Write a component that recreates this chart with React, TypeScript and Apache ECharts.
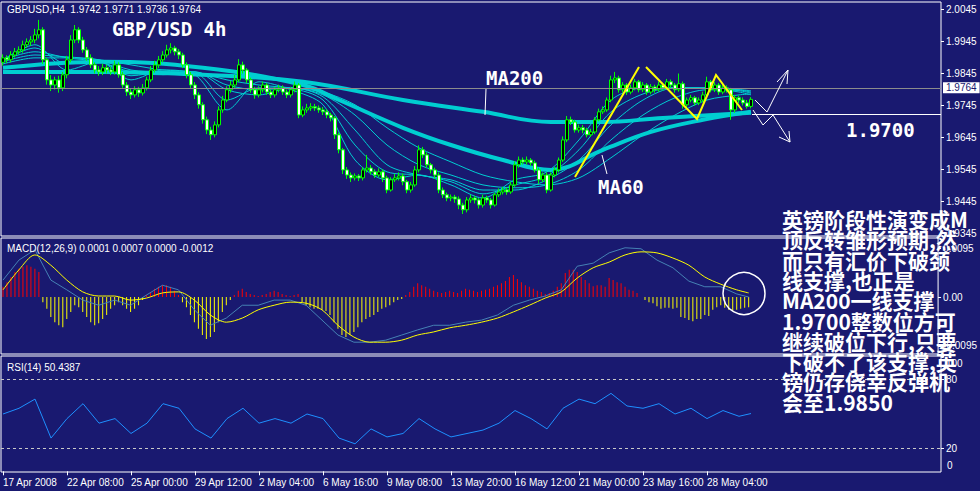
import React, { useEffect, useRef } from 'react';
import * as echarts from 'echarts';

const BG = '#191970';
const CYAN = '#00CED1';
const FONT = '"Liberation Sans", Arial, sans-serif';

const tickLabels = ['17 Apr 2008', '22 Apr 08:00', '25 Apr 00:00', '29 Apr 12:00', '2 May 04:00', '6 May 16:00', '9 May 08:00', '13 May 20:00', '16 May 12:00', '21 May 00:00', '23 May 16:00', '28 May 04:00'];
const slotCount = 235;
const ticksEvery = 16;

const opens = [1.9880,1.9894,1.9888,1.9903,1.9913,1.9919,1.9935,1.9944,1.9950,1.9966,
1.9982,1.9888,1.9825,1.9809,1.9825,1.9800,1.9841,1.9888,1.9950,1.9982,
1.9950,1.9919,1.9894,1.9872,1.9856,1.9850,1.9863,1.9856,1.9850,1.9872,
1.9841,1.9809,1.9787,1.9778,1.9794,1.9784,1.9800,1.9825,1.9856,1.9872,
1.9888,1.9903,1.9919,1.9925,1.9913,1.9903,1.9872,1.9841,1.9809,1.9778,
1.9747,1.9700,1.9668,1.9653,1.9684,1.9731,1.9762,1.9794,1.9809,1.9825,
1.9872,1.9856,1.9825,1.9794,1.9778,1.9794,1.9809,1.9787,1.9778,1.9794,
1.9800,1.9787,1.9778,1.9794,1.9809,1.9715,1.9731,1.9737,1.9741,1.9737,
1.9731,1.9725,1.9715,1.9706,1.9653,1.9606,1.9543,1.9527,1.9518,1.9524,
1.9518,1.9543,1.9549,1.9537,1.9527,1.9537,1.9518,1.9480,1.9512,1.9518,
1.9524,1.9506,1.9480,1.9496,1.9543,1.9606,1.9590,1.9559,1.9543,1.9527,
1.9480,1.9465,1.9455,1.9458,1.9452,1.9433,1.9418,1.9449,1.9455,1.9449,
1.9433,1.9455,1.9449,1.9433,1.9465,1.9474,1.9480,1.9474,1.9496,1.9559,
1.9574,1.9568,1.9574,1.9565,1.9543,1.9512,1.9527,1.9480,1.9527,1.9543,
1.9574,1.9637,1.9700,1.9693,1.9668,1.9675,1.9668,1.9653,1.9662,1.9700,
1.9725,1.9731,1.9762,1.9825,1.9831,1.9794,1.9809,1.9787,1.9800,1.9819,
1.9794,1.9809,1.9787,1.9803,1.9794,1.9809,1.9800,1.9819,1.9809,1.9794,
1.9813,1.9747,1.9762,1.9769,1.9753,1.9762,1.9778,1.9819,1.9794,1.9809,
1.9787,1.9800,1.9794,1.9731,1.9769,1.9762,1.9753,1.9742];

const closes = [1.9894,1.9888,1.9903,1.9913,1.9919,1.9935,1.9944,1.9950,1.9966,1.9982,
1.9888,1.9825,1.9809,1.9825,1.9800,1.9841,1.9888,1.9950,1.9982,1.9950,
1.9919,1.9894,1.9872,1.9856,1.9850,1.9863,1.9856,1.9850,1.9872,1.9841,
1.9809,1.9787,1.9778,1.9794,1.9784,1.9800,1.9825,1.9856,1.9872,1.9888,
1.9903,1.9919,1.9925,1.9913,1.9903,1.9872,1.9841,1.9809,1.9778,1.9747,
1.9700,1.9668,1.9653,1.9684,1.9731,1.9762,1.9794,1.9809,1.9825,1.9872,
1.9856,1.9825,1.9794,1.9778,1.9794,1.9809,1.9787,1.9778,1.9794,1.9800,
1.9787,1.9778,1.9794,1.9809,1.9715,1.9731,1.9737,1.9741,1.9737,1.9731,
1.9725,1.9715,1.9706,1.9653,1.9606,1.9543,1.9527,1.9518,1.9524,1.9518,
1.9543,1.9549,1.9537,1.9527,1.9537,1.9518,1.9480,1.9512,1.9518,1.9524,
1.9506,1.9480,1.9496,1.9543,1.9606,1.9590,1.9559,1.9543,1.9527,1.9480,
1.9465,1.9455,1.9458,1.9452,1.9433,1.9418,1.9449,1.9455,1.9449,1.9433,
1.9455,1.9449,1.9433,1.9465,1.9474,1.9480,1.9474,1.9496,1.9559,1.9574,
1.9568,1.9574,1.9565,1.9543,1.9512,1.9527,1.9480,1.9527,1.9543,1.9574,
1.9637,1.9700,1.9693,1.9668,1.9675,1.9668,1.9653,1.9662,1.9700,1.9725,
1.9731,1.9762,1.9825,1.9831,1.9794,1.9809,1.9787,1.9800,1.9819,1.9794,
1.9809,1.9787,1.9803,1.9794,1.9809,1.9800,1.9819,1.9809,1.9794,1.9813,
1.9747,1.9762,1.9769,1.9753,1.9762,1.9778,1.9819,1.9794,1.9809,1.9787,
1.9800,1.9794,1.9731,1.9769,1.9762,1.9753,1.9742,1.9764];

const highs = [1.9905,1.9902,1.9915,1.9925,1.9930,1.9948,1.9955,1.9962,1.9985,2.0013,
1.9990,1.9895,1.9840,1.9835,1.9838,1.9850,1.9900,1.9965,1.9997,1.9990,
1.9960,1.9928,1.9905,1.9880,1.9868,1.9875,1.9872,1.9865,1.9885,1.9880,
1.9850,1.9818,1.9797,1.9805,1.9803,1.9812,1.9835,1.9868,1.9885,1.9900,
1.9915,1.9935,1.9940,1.9932,1.9922,1.9910,1.9880,1.9850,1.9818,1.9786,
1.9755,1.9710,1.9678,1.9695,1.9742,1.9775,1.9805,1.9822,1.9840,1.9890,
1.9882,1.9862,1.9832,1.9803,1.9805,1.9820,1.9815,1.9795,1.9803,1.9810,
1.9808,1.9795,1.9803,1.9820,1.9815,1.9742,1.9750,1.9752,1.9750,1.9745,
1.9740,1.9733,1.9722,1.9712,1.9660,1.9612,1.9552,1.9535,1.9532,1.9530,
1.9552,1.9590,1.9558,1.9545,1.9548,1.9545,1.9525,1.9520,1.9530,1.9535,
1.9532,1.9512,1.9505,1.9555,1.9620,1.9615,1.9598,1.9565,1.9550,1.9535,
1.9488,1.9472,1.9466,1.9465,1.9460,1.9440,1.9458,1.9465,1.9462,1.9455,
1.9465,1.9462,1.9455,1.9472,1.9485,1.9490,1.9488,1.9505,1.9570,1.9585,
1.9582,1.9585,1.9580,1.9572,1.9550,1.9535,1.9535,1.9535,1.9552,1.9582,
1.9648,1.9712,1.9710,1.9700,1.9685,1.9684,1.9675,1.9672,1.9708,1.9735,
1.9742,1.9770,1.9838,1.9850,1.9838,1.9818,1.9815,1.9810,1.9828,1.9825,
1.9818,1.9815,1.9812,1.9810,1.9820,1.9816,1.9828,1.9826,1.9815,1.9845,
1.9820,1.9770,1.9778,1.9775,1.9770,1.9788,1.9835,1.9825,1.9818,1.9815,
1.9810,1.9808,1.9800,1.9778,1.9775,1.9770,1.9762,1.9771];

const lows = [1.9870,1.9878,1.9880,1.9895,1.9905,1.9910,1.9925,1.9932,1.9940,1.9955,
1.9875,1.9810,1.9790,1.9795,1.9785,1.9790,1.9830,1.9880,1.9940,1.9940,
1.9910,1.9885,1.9862,1.9845,1.9838,1.9840,1.9845,1.9840,1.9842,1.9832,
1.9800,1.9775,1.9765,1.9770,1.9772,1.9776,1.9792,1.9818,1.9848,1.9862,
1.9880,1.9895,1.9908,1.9902,1.9890,1.9862,1.9830,1.9798,1.9765,1.9735,
1.9688,1.9655,1.9637,1.9645,1.9676,1.9722,1.9755,1.9785,1.9800,1.9818,
1.9845,1.9815,1.9785,1.9766,1.9770,1.9786,1.9778,1.9768,1.9770,1.9786,
1.9778,1.9768,1.9770,1.9786,1.9705,1.9708,1.9722,1.9728,1.9728,1.9722,
1.9715,1.9705,1.9695,1.9640,1.9595,1.9530,1.9515,1.9505,1.9510,1.9508,
1.9510,1.9535,1.9528,1.9518,1.9520,1.9505,1.9470,1.9475,1.9505,1.9510,
1.9495,1.9470,1.9472,1.9490,1.9535,1.9580,1.9550,1.9532,1.9515,1.9470,
1.9455,1.9445,1.9445,1.9440,1.9420,1.9405,1.9410,1.9440,1.9438,1.9422,
1.9425,1.9440,1.9422,1.9428,1.9458,1.9466,1.9465,1.9468,1.9490,1.9550,
1.9560,1.9560,1.9556,1.9535,1.9500,1.9505,1.9470,1.9475,1.9520,1.9535,
1.9568,1.9630,1.9684,1.9660,1.9660,1.9658,1.9645,1.9646,1.9655,1.9695,
1.9718,1.9725,1.9755,1.9815,1.9785,1.9786,1.9778,1.9780,1.9792,1.9786,
1.9787,1.9778,1.9780,1.9785,1.9788,1.9792,1.9795,1.9800,1.9785,1.9788,
1.9735,1.9740,1.9755,1.9745,1.9746,1.9755,1.9770,1.9786,1.9787,1.9778,
1.9780,1.9785,1.9700,1.9722,1.9752,1.9745,1.9735,1.9736];

// moving averages, sampled at bar indices
const maIdx = [0,8,16,24,32,40,48,56,64,72,80,88,96,104,112,120,128,136,144,152,160,168,176,184,187];
const ma10 = [1.9888,1.9935,1.9856,1.9882,1.9825,1.9856,1.9841,1.9731,1.9819,1.9794,1.9747,1.9574,1.9512,1.9527,1.9496,1.9455,1.9512,1.9537,1.9637,1.9762,1.9800,1.9800,1.9800,1.9787,1.9778];
const ma15 = [1.9888,1.9925,1.9875,1.9882,1.9838,1.9850,1.9847,1.9762,1.9800,1.9797,1.9762,1.9621,1.9537,1.9527,1.9506,1.9468,1.9496,1.9524,1.9606,1.9725,1.9781,1.9800,1.9800,1.9791,1.9784];
const ma20 = [1.9888,1.9913,1.9894,1.9882,1.9850,1.9841,1.9850,1.9794,1.9778,1.9800,1.9772,1.9668,1.9559,1.9527,1.9512,1.9480,1.9480,1.9512,1.9574,1.9684,1.9762,1.9800,1.9800,1.9794,1.9787];
const ma30 = [1.9882,1.9903,1.9897,1.9888,1.9856,1.9850,1.9850,1.9809,1.9794,1.9800,1.9778,1.9715,1.9621,1.9559,1.9527,1.9496,1.9487,1.9496,1.9543,1.9637,1.9715,1.9769,1.9794,1.9794,1.9791];
const ma45 = [1.9875,1.9894,1.9894,1.9888,1.9872,1.9856,1.9850,1.9825,1.9809,1.9800,1.9787,1.9747,1.9675,1.9612,1.9568,1.9527,1.9506,1.9496,1.9518,1.9581,1.9653,1.9715,1.9762,1.9778,1.9781];
const ma60Idx = [0,25,50,75,84,100,112,125,137,150,162,175,187];
const ma60 = [1.9863,1.9882,1.9863,1.9809,1.9762,1.9675,1.9621,1.9574,1.9543,1.9606,1.9662,1.9700,1.9725];
const ma200Idx = [0,25,50,75,100,120,137,150,165,187];
const ma200 = [1.9850,1.9850,1.9841,1.9819,1.9762,1.9725,1.9693,1.9693,1.9706,1.9722];

const macdHist = [0.0020,0.0029,0.0039,0.0049,0.0055,0.0059,0.0062,0.0059,0.0055,0.0049,
-0.0010,-0.0023,-0.0039,-0.0049,-0.0055,-0.0059,-0.0043,-0.0029,-0.0016,-0.0020,-0.0029,-0.0039,-0.0049,-0.0055,-0.0051,-0.0043,-0.0035,-0.0023,
-0.0016,-0.0010,-0.0016,-0.0023,-0.0029,-0.0023,-0.0016,-0.0006,0.0004,0.0010,
0.0016,0.0020,0.0023,0.0023,0.0020,0.0012,0.0004,
-0.0010,-0.0020,-0.0035,-0.0049,-0.0062,-0.0074,-0.0082,-0.0078,-0.0068,-0.0049,-0.0029,-0.0016,-0.0006,0.0004,
0.0012,0.0016,0.0010,0.0006,0.0004,0.0002,0.0004,0.0006,0.0010,0.0012,0.0010,0.0006,0.0004,0.0002,0.0004,0.0006,-0.0010,-0.0016,-0.0020,-0.0023,
-0.0023,-0.0025,-0.0027,-0.0035,-0.0049,-0.0062,-0.0074,-0.0078,-0.0074,-0.0068,-0.0059,-0.0049,-0.0043,-0.0039,-0.0035,-0.0029,-0.0023,-0.0020,-0.0016,-0.0010,-0.0006,-0.0004,
0.0004,0.0010,0.0020,0.0027,0.0023,0.0020,0.0016,0.0012,0.0010,0.0008,0.0010,0.0012,0.0010,0.0008,0.0012,0.0016,0.0014,0.0012,0.0010,0.0012,0.0014,0.0016,0.0020,0.0023,0.0027,0.0031,0.0039,0.0043,0.0035,0.0029,0.0023,0.0020,0.0016,0.0012,0.0010,0.0006,0.0008,0.0012,0.0020,
0.0027,0.0047,0.0053,0.0053,0.0049,0.0039,0.0033,0.0027,0.0021,0.0023,0.0023,0.0020,0.0037,0.0033,0.0029,0.0027,0.0020,0.0014,0.0012,0.0008,0.0000,-0.0006,-0.0010,-0.0012,-0.0018,-0.0023,-0.0021,-0.0021,-0.0023,-0.0021,-0.0039,-0.0041,-0.0045,-0.0047,-0.0043,-0.0043,-0.0035,-0.0037,-0.0025,-0.0020,-0.0016,-0.0021,-0.0025,-0.0027,-0.0025,-0.0023,-0.0021,-0.0020];

const oscIdx = [0,4,8,12,16,20,24,28,32,36,40,44,48,52,56,60,64,68,72,76,80,84,88,92,96,100,104,108,112,116,120,124,128,132,136,140,144,148,152,156,160,164,168,172,176,180,184,187];
const macdMain = [0.0033,0.0072,0.0092,0.0033,0.0014,-0.0006,-0.0016,-0.0006,-0.0016,0.0004,0.0023,0.0014,-0.0025,-0.0055,-0.0041,-0.0016,-0.0016,-0.0006,-0.0006,-0.0016,-0.0045,-0.0074,-0.0088,-0.0088,-0.0084,-0.0074,-0.0064,-0.0055,-0.0055,-0.0049,-0.0045,-0.0035,-0.0016,-0.0006,0.0002,0.0014,0.0060,0.0066,0.0086,0.0096,0.0094,0.0072,0.0057,0.0031,0.0020,0.0020,0.0006,0.0000];
const macdSignal = [0.0014,0.0053,0.0082,0.0062,0.0033,0.0010,0.0002,0.0002,-0.0006,-0.0002,0.0008,0.0010,-0.0006,-0.0035,-0.0049,-0.0041,-0.0025,-0.0016,-0.0010,-0.0012,-0.0025,-0.0055,-0.0078,-0.0088,-0.0088,-0.0084,-0.0074,-0.0068,-0.0060,-0.0055,-0.0049,-0.0041,-0.0029,-0.0016,-0.0002,0.0010,0.0037,0.0057,0.0068,0.0082,0.0088,0.0086,0.0076,0.0062,0.0039,0.0025,0.0014,0.0008];
const rsi = [50,55,63,29,46,59,42,46,33,42,59,55,37,29,46,55,42,46,42,50,46,29,24,37,30,33,46,37,30,33,36,42,53,46,37,55,63,59,68,57,55,59,50,55,46,53,48,50.4];

const priceTicks = [1.9345, 1.9445, 1.9545, 1.9645, 1.9745, 1.9845, 1.9945, 2.0045];
const macdTicks = [0.0095, 0, -0.0095];
const rsiTicks = [20, 80, 100];
const rsiLevels = [20, 80];
const rsiFloor = 0;
const lastPrice = 1.9764;

const noteLines = ['英镑阶段性演变成M', '顶反转雏形预期,然', '而只有汇价下破颈', '线支撑,也正是', 'MA200一线支撑', '1.9700整数位方可', '继续破位下行,只要', '下破不了该支撑,英', '镑仍存侥幸反弹机', '会至1.9850'];

function pairs(idx: number[], vals: number[]) {
  return idx.map((i, k) => [i, vals[k]]);
}

export default function App() {
  const ref = useRef<HTMLDivElement>(null);
  useEffect(() => {
    const chart = echarts.init(ref.current!, null, { renderer: 'svg' });
    const categories = Array.from({ length: slotCount }, (_, i) =>
      i % ticksEvery === 0 && i / ticksEvery < tickLabels.length ? tickLabels[i / ticksEvery] : '');
    const candles = closes.map((c, i) => [opens[i], c, lows[i], highs[i]]);
    const thin = (d: number[]) => ({
      type: 'line', xAxisIndex: 0, yAxisIndex: 0, data: pairs(maIdx, d), showSymbol: false,
      smooth: 0.3, lineStyle: { color: CYAN, width: 1 }, z: 3,
    });
    const grids = [
      { left: 1, top: 2, width: 940, height: 234 },
      { left: 1, top: 238, width: 940, height: 116 },
      { left: 1, top: 356, width: 940, height: 116 },
    ].map((g) => ({ ...g, show: true, borderColor: '#ffffff', borderWidth: 1, backgroundColor: 'transparent' }));
    const xAxes = [0, 1, 2].map((gi) => ({
      type: 'category', gridIndex: gi, data: categories, boundaryGap: true,
      axisLine: { show: false },
      axisTick: gi === 2 ? { show: true, alignWithLabel: true, length: 4, lineStyle: { color: '#fff' }, interval: (_i: number, v: string) => v !== '' } : { show: false },
      axisLabel: gi === 2 ? { show: true, color: '#fff', fontSize: 10, fontFamily: FONT, align: 'left', margin: 5, interval: (_i: number, v: string) => v !== '' } : { show: false },
      splitLine: { show: false },
    }));
    const yBase = { position: 'right', axisLine: { show: false }, splitLine: { show: false } };
    const labelBase = { color: '#fff', fontSize: 10, fontFamily: FONT, margin: 5, showMinLabel: true, showMaxLabel: true, hideOverlap: false };
    const option: any = {
      animation: false,
      backgroundColor: BG,
      textStyle: { fontFamily: FONT },
      grid: grids,
      xAxis: xAxes,
      yAxis: [
        { ...yBase, type: 'value', gridIndex: 0, min: 1.9336, max: 2.0069,
          axisTick: { show: true, length: 3, lineStyle: { color: '#fff' }, customValues: priceTicks },
          axisLabel: { ...labelBase, customValues: priceTicks, formatter: (v: number) => v.toFixed(4) } },
        { ...yBase, type: 'value', gridIndex: 1, min: -0.0111, max: 0.0115,
          axisTick: { show: true, length: 3, lineStyle: { color: '#fff' }, customValues: macdTicks },
          axisLabel: { ...labelBase, customValues: macdTicks, formatter: (v: number) => (v === 0 ? '0.00' : v.toFixed(4)) } },
        { ...yBase, type: 'value', gridIndex: 2, min: -0.6, max: 100.6,
          axisTick: { show: true, length: 3, lineStyle: { color: '#fff' }, customValues: rsiTicks },
          axisLabel: {
            ...labelBase, customValues: rsiTicks,
            formatter: (v: number) => (v === 100 ? '{dn|100}' : String(v)),
            rich: { dn: { color: '#fff', fontSize: 10, padding: [14, 0, 0, 0] } },
          } },
      ],
      series: [
        thin(ma45), thin(ma30), thin(ma20), thin(ma15), thin(ma10),
        { type: 'line', xAxisIndex: 0, yAxisIndex: 0, data: pairs(ma200Idx, ma200), showSymbol: false, smooth: 0.4, lineStyle: { color: CYAN, width: 4 }, z: 3 },
        { type: 'line', xAxisIndex: 0, yAxisIndex: 0, data: pairs(ma60Idx, ma60), showSymbol: false, smooth: 0.4, lineStyle: { color: CYAN, width: 4 }, z: 3 },
        {
          type: 'candlestick', xAxisIndex: 0, yAxisIndex: 0, data: candles, barWidth: 3, z: 4,
          itemStyle: { color: '#000000', color0: '#ffffff', borderColor: '#00ff00', borderColor0: '#00ff00', borderWidth: 1 },
          markLine: {
            silent: true, symbol: ['none', 'none'], animation: false,
            lineStyle: { color: '#8c8c8c', type: 'solid', width: 1 },
            label: { show: true, position: 'end', formatter: lastPrice.toFixed(4), backgroundColor: '#ffffff', color: BG, fontSize: 10, fontFamily: FONT, padding: [1, 3, 0, 3], distance: 2 },
            data: [{ yAxis: lastPrice }],
          },
        },
        {
          type: 'bar', xAxisIndex: 1, yAxisIndex: 1, barWidth: 1,
          data: macdHist.map((v) => ({ value: v, itemStyle: { color: v >= 0 ? '#ff0000' : '#ffff00' } })),
        },
        { type: 'line', xAxisIndex: 1, yAxisIndex: 1, data: pairs(oscIdx, macdMain), showSymbol: false, lineStyle: { color: '#4682B4', width: 1 } },
        { type: 'line', xAxisIndex: 1, yAxisIndex: 1, data: pairs(oscIdx, macdSignal), showSymbol: false, smooth: 0.3, lineStyle: { color: '#ffff00', width: 1 } },
        {
          type: 'line', xAxisIndex: 2, yAxisIndex: 2, data: pairs(oscIdx, rsi), showSymbol: false, lineStyle: { color: '#1E90FF', width: 1 },
          markLine: {
            silent: true, symbol: ['none', 'none'], label: { show: false },
            lineStyle: { color: '#c8c8c8', type: [3, 3], width: 1 },
            data: [
              ...rsiLevels.map((v) => ({ yAxis: v })),
              {
                yAxis: rsiFloor, lineStyle: { color: 'rgba(0,0,0,0)', width: 1 },
                label: { show: true, position: 'end', formatter: String(rsiFloor), color: '#ffffff', fontSize: 10, fontFamily: FONT, distance: 6, offset: [0, -6] },
              },
            ],
          },
        },
      ],
      graphic: [
        { type: 'text', x: 7, y: 9.5, z: 50, style: { text: 'GBPUSD,H4  1.9742 1.9771 1.9736 1.9764', fill: '#ffffff', font: '10px "Liberation Sans"', verticalAlign: 'middle' } },
        { type: 'text', x: 7, y: 248, z: 50, style: { text: 'MACD(12,26,9) 0.0001 0.0007 0.0000 -0.0012', fill: '#ffffff', font: '10px "Liberation Sans"', verticalAlign: 'middle' } },
        { type: 'text', x: 7, y: 367, z: 50, style: { text: 'RSI(14) 50.4387', fill: '#ffffff', font: '10px "Liberation Sans"', verticalAlign: 'middle' } },
        { type: 'text', x: 112, y: 29, z: 50, style: { text: 'GBP/USD 4h', fill: '#ffffff', font: 'bold 19px "DejaVu Sans Mono"', verticalAlign: 'middle' } },
        { type: 'text', x: 486, y: 78, z: 50, style: { text: 'MA200', fill: '#ffffff', font: 'bold 19px "DejaVu Sans Mono"', verticalAlign: 'middle' } },
        { type: 'line', z: 50, shape: { x1: 486, y1: 89, x2: 485, y2: 115 }, style: { stroke: '#ffffff', lineWidth: 1 } },
        { type: 'text', x: 598, y: 187, z: 50, style: { text: 'MA60', fill: '#ffffff', font: 'bold 19px "DejaVu Sans Mono"', verticalAlign: 'middle' } },
        { type: 'line', z: 50, shape: { x1: 602, y1: 155, x2: 607, y2: 174 }, style: { stroke: '#ffffff', lineWidth: 1 } },
        { type: 'polyline', z: 50, shape: { points: [[575, 177], [639, 67]] }, style: { stroke: '#ffff00', lineWidth: 2, fill: 'none' } },
        { type: 'polyline', z: 50, shape: { points: [[646, 67], [697, 119], [716, 75], [742, 110]] }, style: { stroke: '#ffff00', lineWidth: 2, fill: 'none' } },
        { type: 'polyline', z: 50, shape: { points: [[755, 100], [767, 112], [788, 70]] }, style: { stroke: '#ffffff', lineWidth: 1, fill: 'none' } },
        { type: 'polyline', z: 50, shape: { points: [[777, 82], [788, 70], [787, 84]] }, style: { stroke: '#ffffff', lineWidth: 1, fill: 'none' } },
        { type: 'polyline', z: 50, shape: { points: [[753, 110], [763, 125], [773, 115], [790, 142]] }, style: { stroke: '#ffffff', lineWidth: 1, fill: 'none' } },
        { type: 'polyline', z: 50, shape: { points: [[779, 137], [790, 142], [789, 131]] }, style: { stroke: '#ffffff', lineWidth: 1, fill: 'none' } },
        { type: 'line', z: 50, shape: { x1: 752, y1: 114.5, x2: 941, y2: 114.5 }, style: { stroke: '#ffffff', lineWidth: 1 } },
        { type: 'text', x: 846, y: 130, z: 50, style: { text: '1.9700', fill: '#ffffff', font: 'bold 19px "DejaVu Sans Mono"', verticalAlign: 'middle' } },
        { type: 'circle', z: 50, shape: { cx: 744, cy: 293.5, r: 21 }, style: { stroke: '#ffffff', fill: 'none', lineWidth: 1.5 } },
        ...noteLines.map((t, k) => ({
          type: 'text', x: 782, y: 219 + k * 20.3, z: 50,
          style: { text: t, fill: '#ffffff', font: 'bold 21px "Noto Sans CJK SC"', verticalAlign: 'middle' },
        })),
      ],
    };
    chart.setOption(option);
    return () => chart.dispose();
  }, []);
  return <div ref={ref} style={{ position: 'fixed', left: 0, top: 0, width: 980, height: 491, background: BG }} />;
}
